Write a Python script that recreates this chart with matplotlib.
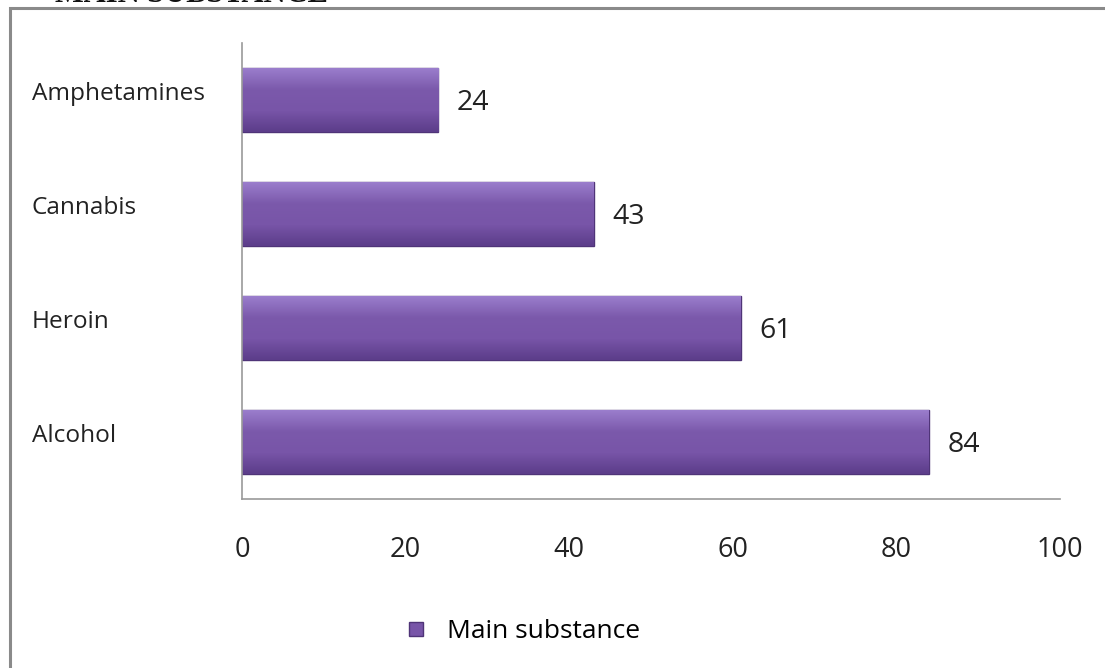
import numpy as np
import matplotlib.pyplot as plt
import matplotlib.transforms as mtransforms
from matplotlib.colors import LinearSegmentedColormap
from matplotlib.patches import Rectangle
from matplotlib.lines import Line2D

plt.rcParams['font.family'] = ['Open Sans', 'DejaVu Sans']

substances = ['Alcohol', 'Heroin', 'Cannabis', 'Amphetamines']
counts = [84, 61, 43, 24]
series_name = 'Main substance'
x_ticks = [0, 20, 40, 60, 80, 100]

bar_color = '#7855a8'
edge_color = '#4f3478'

fig = plt.figure(figsize=(11.05, 6.68), dpi=100)
ax = fig.add_axes([0.219, 0.253, 0.740, 0.683])

y = np.arange(len(substances))
bars = ax.barh(y, counts, height=0.56, color=bar_color, edgecolor=edge_color,
               linewidth=1.0, zorder=2)

# vertical gradient to mimic the bevelled bars
bevel = LinearSegmentedColormap.from_list(
    'bev', ['#5c3d8a', '#7855a8', '#7b59ab', '#9a7dcc'])
grad = np.linspace(0, 1, 64).reshape(-1, 1)
for b in bars:
    x0, y0 = b.get_x(), b.get_y()
    w, h = b.get_width(), b.get_height()
    im = ax.imshow(grad, cmap=bevel, extent=(x0, x0 + w, y0, y0 + h),
                   origin='lower', aspect='auto', zorder=2.5)
    im.set_clip_path(b)

for yi, v in zip(y, counts):
    ax.text(v + 2.3, yi - 0.03, str(v), va='center', ha='left', fontsize=20.5,
            color='#222222')

ax.set_xlim(0, 100)
ax.set_ylim(-0.5, len(substances) - 0.5)
ax.set_xticks(x_ticks)
ax.set_xticklabels([str(t) for t in x_ticks], fontsize=19.5, color='#222222')
ax.set_yticks(y)
ax.set_yticklabels([])
ax.tick_params(axis='y', length=0)
ax.tick_params(axis='x', length=0, pad=27)

# category names sit left-aligned near the frame
lab_tr = mtransforms.blended_transform_factory(ax.transAxes, ax.transData)
for yi, name in zip(y, substances):
    ax.text(-0.257, yi + 0.05, name, transform=lab_tr, ha='left', va='center',
            fontsize=17.6, color='#222222')

for s in ['top', 'right']:
    ax.spines[s].set_visible(False)
for s in ['left', 'bottom']:
    ax.spines[s].set_color('#999999')
    ax.spines[s].set_linewidth(1.2)

handle = Line2D([], [], marker='s', linestyle='none', markersize=10,
                markerfacecolor=bar_color, markeredgecolor=edge_color)
fig.legend([handle], [series_name], loc='center', bbox_to_anchor=(0.466, 0.054),
           frameon=False, fontsize=19, handletextpad=0.15)

# outer frame and clipped title of the source document
fig.patches.append(Rectangle((0.009, -0.02), 1.1, 1.008, transform=fig.transFigure,
                             fill=False, edgecolor='#8a8a8a', linewidth=2.2))
fig.text(0.05, 1 - 2 / 668, 'MAIN SUBSTANCE', family='Liberation Serif',
         weight='bold', fontsize=22, va='baseline', ha='left', color='#111111')

fig.savefig('out.png', dpi=100)
